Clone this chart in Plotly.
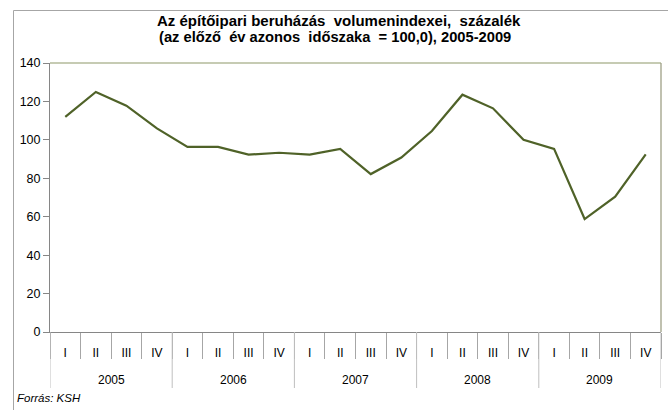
import plotly.graph_objects as go

year_labels = ["2005", "2006", "2007", "2008", "2009"]
quarter_labels = ["I", "II", "III", "IV"]
years = [y for y in year_labels for _ in quarter_labels]
quarters = quarter_labels * len(year_labels)
categories = [f"{y} {q}" for y, q in zip(years, quarters)]
values = [112.0, 124.9, 117.8, 106.0, 96.3, 96.3, 92.3, 93.3, 92.3, 95.3,
          82.2, 90.8, 104.6, 123.5, 116.4, 100.0, 95.3, 58.8, 70.4, 92.5]
y_ticks = [0, 20, 40, 60, 80, 100, 120, 140]

W, H = 668, 410
L, R, T, B = 50, 661, 63, 332

fig = go.Figure()
fig.add_trace(go.Scatter(
    x=categories, y=values, mode="lines",
    line=dict(color="#4f6228", width=2.2), hoverinfo="skip", showlegend=False))

def px_x(p):
    return (p - L) / (R - L)

def px_y(p):
    return (B - p) / (B - T)

shapes = [
    dict(type="line", xref="paper", yref="paper", x0=px_x(13.5), x1=px_x(700), y0=px_y(10.5), y1=px_y(10.5),
         line=dict(color="#a6a6a6", width=1)),
    dict(type="line", xref="paper", yref="paper", x0=px_x(13.5), x1=px_x(13.5), y0=px_y(10.5), y1=px_y(420),
         line=dict(color="#a6a6a6", width=1)),
    dict(type="line", xref="paper", yref="paper", x0=0, x1=1, y0=1, y1=1,
         line=dict(color="#b3ba9a", width=1.3)),
    dict(type="line", xref="paper", yref="paper", x0=1, x1=1, y0=0, y1=1,
         line=dict(color="#9ea086", width=1.3)),
]
# year group dividers
n_q = len(quarter_labels)
for k in range(len(year_labels) + 1):
    xb = k * n_q - 0.5
    shapes.append(dict(type="line", xref="x", yref="paper", x0=xb, x1=xb,
                       y0=0, y1=px_y(388), line=dict(color="#bfbfbf", width=1)))

annotations = []
for k, yl in enumerate(year_labels):
    annotations.append(dict(text=yl, xref="x", yref="paper", x=k * n_q + (n_q - 1) / 2,
                            y=px_y(380), xanchor="center", yanchor="middle", showarrow=False,
                            font=dict(size=12, color="#000000")))
annotations.append(dict(text="<b>Az építőipari beruházás  volumenindexei,  százalék</b>",
                        xref="paper", yref="paper", x=px_x(339), y=px_y(20),
                        xanchor="center", yanchor="middle", showarrow=False,
                        font=dict(size=15, color="#000000")))
annotations.append(dict(text="<b>(az előző  év azonos  időszaka  = 100,0), 2005-2009</b>",
                        xref="paper", yref="paper", x=px_x(335), y=px_y(37),
                        xanchor="center", yanchor="middle", showarrow=False,
                        font=dict(size=14.7, color="#000000")))
annotations.append(dict(text="<i>Forrás: KSH</i>", xref="paper", yref="paper",
                        x=px_x(15), y=px_y(398), xanchor="left", yanchor="middle",
                        showarrow=False, font=dict(size=11.5, color="#000000")))

fig.update_layout(
    width=W, height=H,
    margin=dict(l=L, r=W - R, t=T, b=H - B, pad=0),
    paper_bgcolor="white", plot_bgcolor="white",
    font=dict(family="Liberation Sans, Arial, sans-serif", size=12, color="#000000"),
    xaxis=dict(
        type="category", range=[-0.5, len(categories) - 0.5], showgrid=False, zeroline=False,
        tickvals=categories, ticktext=quarters,
        showline=True, linecolor="#868686", linewidth=1,
        ticks="outside", tickson="boundaries", ticklen=26, tickcolor="#a6a6a6",
        ticklabelstandoff=10,
        tickfont=dict(size=12, color="#000000")),
    yaxis=dict(
        range=[0, 140], tickvals=y_ticks, showgrid=False, zeroline=False,
        showline=True, linecolor="#868686", linewidth=1,
        ticks="outside", ticklen=6, tickcolor="#868686",
        tickfont=dict(size=12.5, color="#000000")),
    shapes=shapes,
    annotations=annotations,
)

fig.write_html("out.html", config={"displayModeBar": False},
               post_script="document.body.style.margin='0';document.body.style.padding='0';")
